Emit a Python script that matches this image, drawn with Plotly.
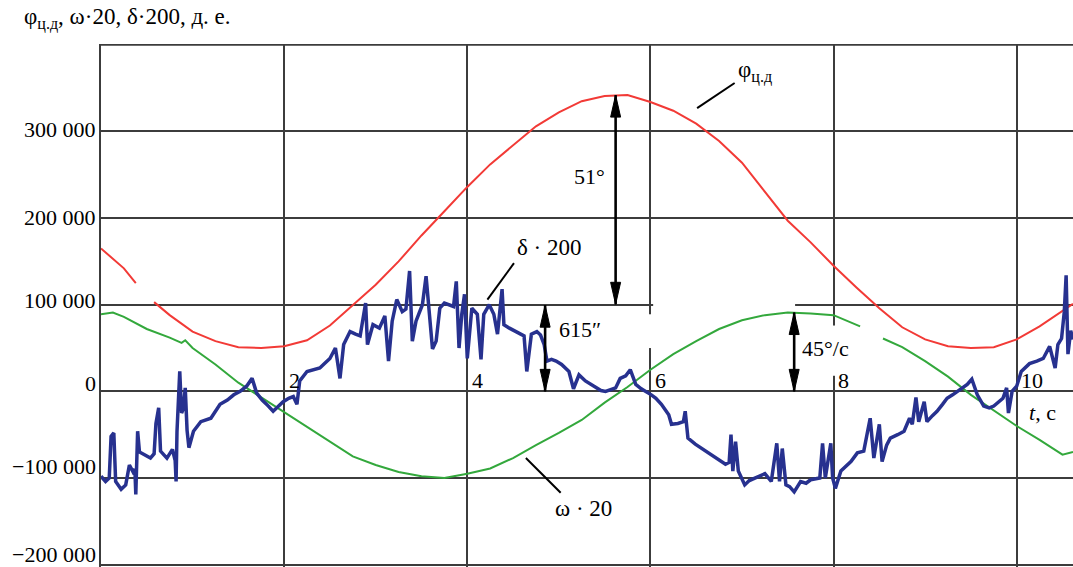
import plotly.graph_objects as go

# ---------------- data ----------------
t_phi = [0.0, 0.25, 0.38, 0.48, 0.58, 0.75, 1.0, 1.25, 1.5, 1.75, 2.0, 2.25, 2.5, 2.75, 3.0,
         3.25, 3.5, 3.75, 4.0, 4.25, 4.5, 4.75, 5.0, 5.25, 5.5, 5.75, 6.0, 6.25, 6.5,
         6.75, 7.0, 7.25, 7.5, 7.75, 8.0, 8.25, 8.5, 8.75, 9.0, 9.25, 9.5, 9.75, 10.0,
         10.25, 10.5, 10.615]
phi = [165000, 142000, 125000, None, 103000, 88000, 69000, 58000, 51000, 50000, 52000, 59000,
       76000, 100000, 123000, 150000, 180000, 208000, 236000, 262000, 284000, 306000,
       322000, 335000, 341000, 342000, 334000, 324000, 309000, 289000, 264000, 231000,
       197000, 172000, 145000, 120000, 96000, 74000, 60000, 52000, 50000, 51000, 60000,
       75000, 93000, 101000]

t_omega = [0.0, 0.13, 0.25, 0.5, 0.75, 0.88, 0.92, 1.0, 1.25, 1.5, 1.75, 2.0, 2.25, 2.5,
           2.75, 3.0, 3.25, 3.5, 3.75, 4.0, 4.25, 4.5, 4.75, 5.0, 5.25, 5.5, 5.75, 6.0,
           6.25, 6.5, 6.75, 7.0, 7.25, 7.5, 7.75, 8.0, 8.29, 8.4, 8.54, 8.75, 9.0, 9.25,
           9.5, 9.75, 10.0, 10.25, 10.5, 10.615]
omega20 = [89000, 91000, 86000, 72000, 62000, 56000, 59000, 50000, 31000, 10000, -7000,
           -24000, -41000, -59000, -75000, -85000, -93000, -98000, -100000, -95000, -89000,
           -77000, -62000, -48000, -33000, -13000, 5000, 25000, 43000, 58000, 72000, 82000,
           88000, 91000, 90000, 88000, 75000, None, 61000, 51000, 35000, 17000, -4000,
           -22000, -40000, -56000, -73000, -70000]

t_delta = [0.00, 0.05, 0.09, 0.11, 0.14, 0.16, 0.22, 0.27, 0.31, 0.35, 0.37, 0.38, 0.40,
           0.42, 0.47, 0.54, 0.58, 0.60, 0.63, 0.65, 0.72, 0.78, 0.81, 0.82, 0.83, 0.86,
           0.88, 0.90, 0.92, 0.94, 0.96, 1.01, 1.09, 1.20, 1.30, 1.38, 1.45, 1.52, 1.59,
           1.65, 1.70, 1.76, 1.81, 1.88, 1.94, 1.99, 2.05, 2.10, 2.14, 2.17, 2.25, 2.32,
           2.39, 2.45, 2.50, 2.56, 2.61, 2.65, 2.72, 2.78, 2.83, 2.89, 2.91, 2.97, 3.04,
           3.10, 3.14, 3.18, 3.23, 3.29, 3.33, 3.37, 3.40, 3.44, 3.51, 3.55, 3.59, 3.62,
           3.66, 3.70, 3.75, 3.80, 3.85, 3.88, 3.91, 3.94, 3.97, 4.00, 4.05, 4.11, 4.15,
           4.18, 4.24, 4.29, 4.33, 4.38, 4.40, 4.46, 4.54, 4.62, 4.65, 4.70, 4.76, 4.80,
           4.84, 4.87, 4.92, 4.97, 5.03, 5.11, 5.16, 5.22, 5.29, 5.35, 5.40, 5.46, 5.51,
           5.57, 5.62, 5.67, 5.73, 5.78, 5.84, 5.90, 5.95, 6.01, 6.06, 6.12, 6.20, 6.23,
           6.30, 6.36, 6.38, 6.41, 6.49, 6.55, 6.60, 6.70, 6.76, 6.82, 6.86, 6.88, 6.90,
           6.93, 6.96, 7.03, 7.08, 7.14, 7.20, 7.25, 7.32, 7.38, 7.41, 7.44, 7.48, 7.52,
           7.57, 7.64, 7.70, 7.75, 7.85, 7.88, 7.91, 7.97, 7.99, 8.02, 8.08, 8.14, 8.19,
           8.26, 8.33, 8.40, 8.44, 8.50, 8.53, 8.58, 8.62, 8.70, 8.77, 8.83, 8.86, 8.90,
           8.93, 8.99, 9.02, 9.08, 9.13, 9.19, 9.24, 9.30, 9.35, 9.41, 9.46, 9.51, 9.57,
           9.64, 9.70, 9.75, 9.80, 9.85, 9.89, 9.91, 9.95, 10.00, 10.05, 10.14, 10.22,
           10.29, 10.36, 10.42, 10.45, 10.49, 10.52, 10.54, 10.56, 10.59, 10.615]
delta200 = [-98000, -104000, -100000, -52000, -48000, -104000, -113000, -108000, -85000,
            -93000, -90000, -119000, -46000, -70000, -73000, -77000, -72000, -37000, -19000,
            -69000, -77000, -67000, -80000, -104000, -46000, 23000, -25000, -20000, 4000,
            -45000, -65000, -46000, -35000, -31000, -15000, -10000, -4000, 0, 6000, 15000,
            -2000, -10000, -15000, -23000, -17000, -12000, -8000, -6000, -15000, 12000,
            23000, 25000, 27000, 33000, 38000, 50000, 15000, 54000, 69000, 66000, 64000,
            102000, 54000, 77000, 73000, 87000, 35000, 81000, 106000, 92000, 95000, 139000,
            58000, 81000, 100000, 133000, 81000, 49000, 58000, 96000, 102000, 100000, 98000,
            127000, 50000, 89000, 112000, 38000, 96000, 89000, 37000, 89000, 100000, 89000,
            66000, 118000, 77000, 73000, 69000, 64000, 23000, 66000, 69000, 65000, 54000,
            35000, 37000, 35000, 31000, 23000, 3000, 19000, 12000, 8000, 4000, 1000, 0, 2000,
            4000, 15000, 18000, 25000, 8000, 3000, 0, -4000, -8000, -15000, -27000, -38000,
            -37000, -35000, -23000, -54000, -61000, -65000, -69000, -75000, -80000, -84000,
            -82000, -50000, -92000, -58000, -92000, -108000, -103000, -100000, -98000,
            -95000, -104000, -60000, -104000, -66000, -108000, -110000, -116000, -104000,
            -106000, -102000, -100000, -60000, -100000, -60000, -100000, -112000, -92000,
            -86000, -81000, -71000, -69000, -31000, -77000, -38000, -81000, -62000, -54000,
            -50000, -46000, -31000, -38000, -7000, -35000, -12000, -35000, -28000, -23000,
            -15000, -8000, -4000, 0, 4000, 8000, 14000, -4000, -17000, -19000, -17000,
            -13000, -8000, 4000, -25000, 0, 6000, 23000, 32000, 35000, 38000, 52000, 27000,
            54000, 61000, 92000, 134000, 43000, 70000, 60000]

y_ticks = [300000, 200000, 100000, 0, -100000, -200000]
y_ticktext = ["300 000", "200 000", "100 000", "0", "\u2212100 000", "\u2212200 000"]
y_top = 400000
x_ticks = [2, 4, 6, 8, 10]
x_ticktext = ["2", "4", "6", "8", "10"]

# ---------------- styling ----------------
FONT = "Liberation Serif"
FS = 22
GRID = "#3c3c3c"
RED = "#f23a36"
GREEN = "#33a83c"
BLUE = "#27318f"

X_RANGE = [0, 10.615]
Y_RANGE = [-202750, 401000]
# vertical placement of the y labels as printed (slightly above their grid lines)
Y_LABEL_LIFT = [1, 0, 3, 7, 10, 9]   # pixels
PX_PER_UNIT = 523 / (Y_RANGE[1] - Y_RANGE[0])

fig = go.Figure()
fig.add_trace(go.Scatter(x=t_phi, y=phi, mode="lines", line=dict(color=RED, width=2),
                         connectgaps=False, hoverinfo="skip"))
fig.add_trace(go.Scatter(x=t_omega, y=omega20, mode="lines", line=dict(color=GREEN, width=2),
                         connectgaps=False, hoverinfo="skip"))
fig.add_trace(go.Scatter(x=t_delta, y=delta200, mode="lines", line=dict(color=BLUE, width=3.5),
                         hoverinfo="skip"))

shapes = []
# top grid line
shapes.append(dict(type="line", xref="paper", yref="y", x0=0, x1=1, y0=y_top, y1=y_top,
                   line=dict(color=GRID, width=2), layer="between"))
# white background patches behind labels (cutting gridlines like in the original)
for x0, x1, y0, y1 in [(6.03, 7.58, 93500, 106500), (5.965, 6.035, 50000, 89000),
                       (7.96, 8.04, 18000, 76000)]:
    shapes.append(dict(type="rect", xref="x", yref="y", x0=x0, x1=x1, y0=y0, y1=y1,
                       fillcolor="white", line=dict(width=0), layer="between"))

# double-headed measurement arrows
def double_arrow(xv, ytop, ybot):
    shapes.append(dict(type="line", xref="x", yref="y", x0=xv, x1=xv, y0=ytop, y1=ybot,
                       line=dict(color="black", width=2.6)))
    shapes.append(dict(type="path", xref="x", yref="y", xsizemode="pixel", ysizemode="pixel",
                       xanchor=xv, yanchor=ytop, path="M0,0 L-5,-22 L5,-22 Z",
                       fillcolor="black", line=dict(color="black", width=1)))
    shapes.append(dict(type="path", xref="x", yref="y", xsizemode="pixel", ysizemode="pixel",
                       xanchor=xv, yanchor=ybot, path="M0,0 L-5,22 L5,22 Z",
                       fillcolor="black", line=dict(color="black", width=1)))

double_arrow(5.62, 342000, 100500)
double_arrow(4.85, 99500, 0)
double_arrow(7.57, 91000, 0)

# leader lines
for x0, y0, x1, y1 in [(6.51, 327000, 6.92, 356000), (4.22, 106000, 4.51, 148000),
                       (4.64, -77000, 5.02, -117000)]:
    shapes.append(dict(type="line", xref="x", yref="y", x0=x0, y0=y0, x1=x1, y1=y1,
                       line=dict(color="black", width=2)))

ann = []
def label(x, y, text, xanchor="center", size=FS, yanchor="middle", xref="x", yref="y",
          xshift=0, yshift=0):
    ann.append(dict(x=x, y=y, xref=xref, yref=yref, text=text, showarrow=False,
                    xanchor=xanchor, yanchor=yanchor, xshift=xshift, yshift=yshift,
                    font=dict(family=FONT, size=size, color="black")))

# y tick labels left of the axis
for tv, tt, lift in zip(y_ticks, y_ticktext, Y_LABEL_LIFT):
    label(0, tv, tt, xanchor="right", xref="paper", xshift=-3, yshift=lift + 1)

# x tick labels inside the plot, just above the zero line
for tv, tt in zip(x_ticks, x_ticktext):
    label(tv + 0.03, 12500, tt, xanchor="left")

label(10.28, -24000, "<i>t</i>, с")
label(5.33, 248000, "51°")
label(5.23, 72000, "615\u2033")
label(7.91, 50000, "45°/с")
label(4.90, 166000, "δ · 200", size=23)
label(5.27, -135000, "ω · 20", size=23)
label(6.93, 369000, "φ<sub>ц.д</sub>", xanchor="left", size=23)
label(-0.081, 1.048, "φ<sub>ц.д</sub>, ω·20, δ·200, д. е.", xanchor="left",
      xref="paper", yref="paper", size=23)

fig.update_layout(
    width=1073, height=567,
    margin=dict(l=101, r=0, t=44, b=0, pad=0, autoexpand=False),
    paper_bgcolor="white", plot_bgcolor="white",
    showlegend=False,
    font=dict(family=FONT, size=FS, color="black"),
    shapes=shapes, annotations=ann,
    xaxis=dict(range=X_RANGE, tickvals=x_ticks, showticklabels=False, ticks="",
               showgrid=True, gridcolor=GRID, gridwidth=2, zeroline=False,
               showline=False, fixedrange=True, automargin=False),
    yaxis=dict(range=Y_RANGE, tickvals=y_ticks, showticklabels=False, ticks="",
               showgrid=True, gridcolor=GRID, gridwidth=2, zeroline=False,
               showline=True, linecolor=GRID, linewidth=2, automargin=False,
               fixedrange=True),
)

fig.write_html("out.html", config={"displayModeBar": False},
               post_script="document.body.style.margin='0';document.body.style.overflow='hidden';")
